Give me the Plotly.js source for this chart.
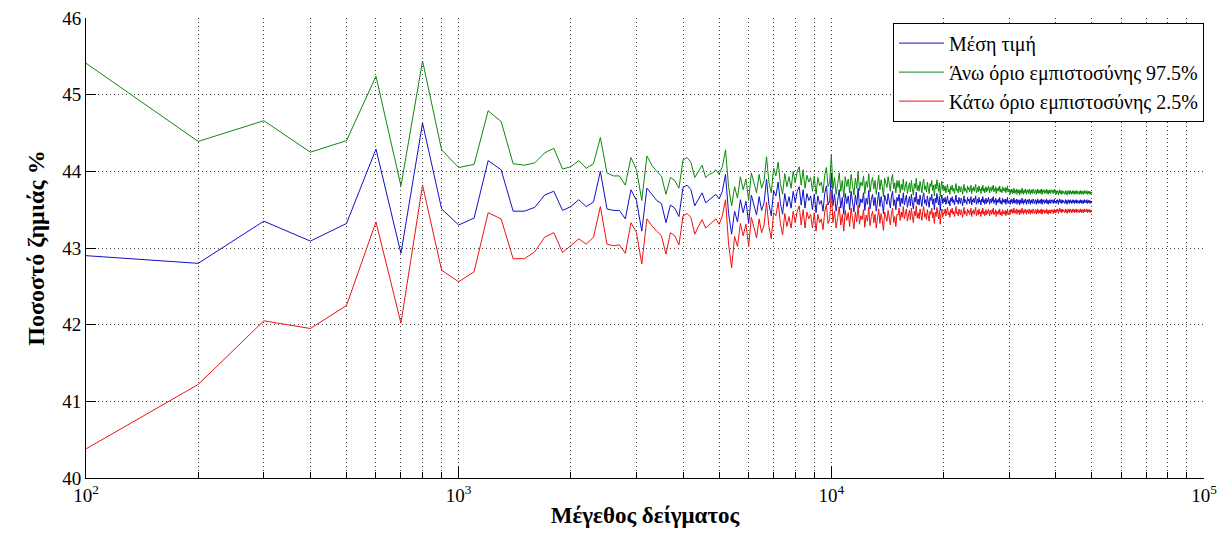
<!DOCTYPE html>
<html>
<head>
<meta charset="utf-8">
<script src="https://cdn.plot.ly/plotly-3.0.1.min.js"></script>
<style>html,body{margin:0;padding:0;background:#fff;}#chart{width:1222px;height:533px;}</style>
</head>
<body>
<div id="chart"></div>
<script>
// Sample sizes: 100, 200, ..., 50000
const sampleStart = 100, sampleStep = 100, sampleEnd = 50000;
const sampleSizes = [];
for (let n = sampleStart; n <= sampleEnd; n += sampleStep) sampleSizes.push(n);

// ---- Mean (Μέση τιμή) ----
const meanEarly = [42.90,42.80,43.35,43.09,43.32,44.29,42.93,44.63,43.51,43.30,43.39,44.14,44.02,43.48,43.48,43.53,43.69,43.74,43.49,43.54,43.63,43.54,43.60,44.00,43.51,43.49,43.49,43.38,43.76,43.62,43.22,43.78,43.70,43.62,43.58,43.33,43.56];
const meanMid = [43.52,43.41,43.79,43.82,43.76,43.55,43.64,43.72,43.59,43.63,43.66,43.70,43.64,43.74,43.96,43.45,43.18,43.48,43.34,43.63,43.46,43.61,43.32,43.69,43.56,43.43,43.67,43.49,43.59,43.90,43.57,43.42,43.75,43.68,43.86,43.58,43.44,43.71,43.54,43.67,43.52,43.74,43.59,43.74,43.80,43.56,43.76,43.52,43.71,43.62,43.68,43.50,43.70,43.46,43.68,43.57,43.62,43.48,43.71,43.81,43.56,43.62,43.98];
const meanLate = [
43.55,43.70,43.48,43.62,43.76,43.52,43.66,43.44,43.71,43.58,
43.68,43.50,43.74,43.60,43.47,43.69,43.56,43.78,43.53,43.64,
43.59,43.72,43.49,43.65,43.57,43.75,43.51,43.63,43.70,43.55,
43.66,43.48,43.61,43.73,43.54,43.67,43.58,43.45,43.69,43.62,
43.57,43.71,43.60,43.52,43.68,43.74,43.55,43.63,43.50,43.66,
43.61,43.70,43.54,43.65,43.58,43.72,43.56,43.64,43.69,43.53,
43.62,43.67,43.55,43.70,43.59,43.51,43.66,43.60,43.73,43.57,
43.64,43.56,43.69,43.61,43.54,43.67,43.72,43.58,43.63,43.55,
43.68,43.60,43.53,43.66,43.62,43.70,43.57,43.64,43.50,43.65,
43.59,43.71,43.62,43.56,43.67,43.49,43.63,43.69,43.58,43.64,
43.60,43.66,43.57,43.63,43.68,43.58,43.62,43.55,43.65,43.61,
43.67,43.59,43.63,43.56,43.64,43.69,43.60,43.62,43.57,43.66,
43.61,43.58,43.65,43.62,43.55,43.64,43.68,43.59,43.63,43.60,
43.57,43.66,43.61,43.64,43.58,43.62,43.67,43.56,43.63,43.60,
43.65,43.59,43.62,43.68,43.57,43.61,43.64,43.58,43.66,43.60,
43.62,43.56,43.64,43.60,43.67,43.59,43.63,43.57,43.61,43.65,
43.58,43.63,43.60,43.66,43.62,43.57,43.64,43.61,43.59,43.65,
43.61,43.67,43.58,43.62,43.60,43.65,43.56,43.63,43.61,43.59,
43.64,43.60,43.66,43.58,43.62,43.61,43.57,43.65,43.60,43.63,
43.59,43.62,43.64,43.57,43.63,43.60,43.66,43.58,43.61,43.62,
43.61,43.57,43.63,43.60,43.64,43.58,43.62,43.59,43.65,43.60,
43.58,43.62,43.60,43.64,43.57,43.61,43.63,43.59,43.62,43.56,
43.63,43.60,43.58,43.62,43.65,43.59,43.61,43.57,43.63,43.60,
43.59,43.64,43.61,43.57,43.62,43.60,43.63,43.58,43.61,43.64,
43.60,43.57,43.62,43.59,43.63,43.61,43.58,43.64,43.60,43.62,
43.58,43.61,43.63,43.60,43.57,43.62,43.59,43.64,43.61,43.58,
43.62,43.59,43.61,43.63,43.58,43.60,43.64,43.57,43.62,43.60,
43.61,43.63,43.58,43.60,43.62,43.59,43.61,43.64,43.58,43.62,
43.60,43.57,43.62,43.61,43.59,43.63,43.60,43.58,43.62,43.61,
43.63,43.59,43.61,43.58,43.62,43.60,43.64,43.59,43.61,43.60,
43.58,43.62,43.60,43.63,43.59,43.61,43.57,43.62,43.60,43.64,
43.61,43.59,43.62,43.60,43.58,43.63,43.61,43.59,43.62,43.60,
43.62,43.60,43.58,43.61,43.63,43.59,43.62,43.60,43.57,43.61,
43.60,43.63,43.61,43.59,43.62,43.58,43.61,43.63,43.60,43.59,
43.61,43.58,43.62,43.60,43.63,43.61,43.59,43.62,43.58,43.60,
43.62,43.60,43.59,43.63,43.61,43.58,43.62,43.60,43.61,43.59,
43.60,43.62,43.58,43.61,43.60,43.63,43.59,43.61,43.62,43.58,
43.61,43.59,43.62,43.60,43.58,43.61,43.63,43.60,43.59,43.62,
43.60,43.62,43.59,43.61,43.63,43.60,43.58,43.61,43.60,43.62,
43.59,43.61,43.60,43.62,43.58,43.61,43.60,43.59,43.61,43.60];

// ---- Upper bound 97.5% ----
const upperEarly = [45.41,44.39,44.66,44.25,44.40,45.24,43.81,45.44,44.28,44.05,44.09,44.79,44.65,44.10,44.08,44.11,44.24,44.30,44.03,44.06,44.14,44.04,44.10,44.44,43.98,43.94,43.94,43.82,44.18,44.02,43.62,44.20,44.08,44.00,43.94,43.70,43.92];
const upperMid = [43.88,43.78,44.15,44.18,44.12,43.92,44.00,44.08,43.92,43.96,43.98,44.02,43.96,44.06,44.28,43.80,43.55,43.80,43.65,43.93,43.76,43.90,43.62,43.98,43.85,43.72,43.96,43.78,43.88,44.19,43.86,43.72,44.04,43.94,44.12,43.84,43.70,43.97,43.80,43.93,43.78,44.00,43.85,44.00,44.06,43.82,44.02,43.78,43.95,43.86,43.92,43.74,43.94,43.70,43.92,43.81,43.86,43.72,43.95,44.05,43.80,43.86,44.22];
const upperLate = [
43.77,43.92,43.70,43.84,43.98,43.74,43.88,43.66,43.93,43.80,
43.90,43.72,43.96,43.82,43.69,43.91,43.78,44.00,43.75,43.86,
43.81,43.94,43.71,43.87,43.79,43.97,43.73,43.85,43.92,43.77,
43.88,43.70,43.83,43.95,43.76,43.89,43.80,43.67,43.91,43.84,
43.79,43.93,43.82,43.74,43.90,43.96,43.77,43.85,43.72,43.88,
43.79,43.88,43.72,43.83,43.76,43.90,43.74,43.82,43.87,43.71,
43.80,43.85,43.73,43.88,43.77,43.69,43.84,43.78,43.91,43.75,
43.82,43.74,43.87,43.79,43.72,43.85,43.90,43.76,43.81,43.73,
43.86,43.78,43.71,43.84,43.80,43.88,43.75,43.82,43.68,43.83,
43.77,43.89,43.80,43.74,43.85,43.67,43.81,43.87,43.76,43.82,
43.75,43.81,43.72,43.78,43.83,43.73,43.77,43.70,43.80,43.76,
43.82,43.74,43.78,43.71,43.79,43.84,43.75,43.77,43.72,43.81,
43.76,43.73,43.80,43.77,43.70,43.79,43.83,43.74,43.78,43.75,
43.72,43.81,43.76,43.79,43.73,43.77,43.82,43.71,43.78,43.75,
43.80,43.74,43.77,43.83,43.72,43.76,43.79,43.73,43.81,43.75,
43.77,43.71,43.79,43.75,43.82,43.74,43.78,43.72,43.76,43.80,
43.73,43.78,43.75,43.81,43.77,43.72,43.79,43.76,43.74,43.80,
43.76,43.82,43.73,43.77,43.75,43.80,43.71,43.78,43.76,43.74,
43.79,43.75,43.81,43.73,43.77,43.76,43.72,43.80,43.75,43.78,
43.74,43.77,43.79,43.72,43.78,43.75,43.81,43.73,43.76,43.77,
43.74,43.70,43.76,43.73,43.77,43.71,43.75,43.72,43.78,43.73,
43.71,43.75,43.73,43.77,43.70,43.74,43.76,43.72,43.75,43.69,
43.76,43.73,43.71,43.75,43.78,43.72,43.74,43.70,43.76,43.73,
43.72,43.77,43.74,43.70,43.75,43.73,43.76,43.71,43.74,43.77,
43.73,43.70,43.75,43.72,43.76,43.74,43.71,43.77,43.73,43.75,
43.71,43.74,43.76,43.73,43.70,43.75,43.72,43.77,43.74,43.71,
43.75,43.72,43.74,43.76,43.71,43.73,43.77,43.70,43.75,43.73,
43.74,43.76,43.71,43.73,43.75,43.72,43.74,43.77,43.71,43.75,
43.73,43.70,43.75,43.74,43.72,43.76,43.73,43.71,43.75,43.74,
43.76,43.72,43.74,43.71,43.75,43.73,43.77,43.72,43.74,43.73,
43.70,43.74,43.72,43.75,43.71,43.73,43.69,43.74,43.72,43.76,
43.73,43.71,43.74,43.72,43.70,43.75,43.73,43.71,43.74,43.72,
43.74,43.72,43.70,43.73,43.75,43.71,43.74,43.72,43.69,43.73,
43.72,43.75,43.73,43.71,43.74,43.70,43.73,43.75,43.72,43.71,
43.73,43.70,43.74,43.72,43.75,43.73,43.71,43.74,43.70,43.72,
43.74,43.72,43.71,43.75,43.73,43.70,43.74,43.72,43.73,43.71,
43.72,43.74,43.70,43.73,43.72,43.75,43.71,43.73,43.74,43.70,
43.73,43.71,43.74,43.72,43.70,43.73,43.75,43.72,43.71,43.74,
43.72,43.74,43.71,43.73,43.75,43.72,43.70,43.73,43.72,43.74,
43.71,43.73,43.72,43.74,43.70,43.73,43.72,43.71,43.73,43.72];

// ---- Lower bound 2.5% ----
const lowerEarly = [40.38,41.22,42.05,41.95,42.25,43.34,42.02,43.82,42.71,42.56,42.69,43.46,43.38,42.86,42.86,42.95,43.14,43.20,42.94,43.03,43.12,43.05,43.14,43.54,43.05,43.03,43.04,42.93,43.33,43.20,42.79,43.38,43.29,43.22,43.16,42.92,43.20];
const lowerMid = [43.16,43.04,43.42,43.45,43.40,43.18,43.28,43.37,43.26,43.30,43.33,43.38,43.31,43.42,43.63,43.05,42.74,43.15,43.02,43.32,43.16,43.31,43.02,43.40,43.27,43.13,43.38,43.20,43.30,43.60,43.28,43.12,43.46,43.42,43.60,43.32,43.17,43.45,43.28,43.41,43.26,43.48,43.33,43.48,43.55,43.30,43.50,43.26,43.47,43.38,43.44,43.26,43.46,43.22,43.44,43.33,43.38,43.24,43.47,43.57,43.32,43.38,43.74];
const lowerLate = [
43.33,43.48,43.26,43.40,43.54,43.30,43.44,43.22,43.49,43.36,
43.46,43.28,43.52,43.38,43.25,43.47,43.34,43.56,43.31,43.42,
43.37,43.50,43.27,43.43,43.35,43.53,43.29,43.41,43.48,43.33,
43.44,43.26,43.39,43.51,43.32,43.45,43.36,43.23,43.47,43.40,
43.35,43.49,43.38,43.30,43.46,43.52,43.33,43.41,43.28,43.44,
43.43,43.52,43.36,43.47,43.40,43.54,43.38,43.46,43.51,43.35,
43.44,43.49,43.37,43.52,43.41,43.33,43.48,43.42,43.55,43.39,
43.46,43.38,43.51,43.43,43.36,43.49,43.54,43.40,43.45,43.37,
43.50,43.42,43.35,43.48,43.44,43.52,43.39,43.46,43.32,43.47,
43.41,43.53,43.44,43.38,43.49,43.31,43.45,43.51,43.40,43.46,
43.45,43.51,43.42,43.48,43.53,43.43,43.47,43.40,43.50,43.46,
43.52,43.44,43.48,43.41,43.49,43.54,43.45,43.47,43.42,43.51,
43.46,43.43,43.50,43.47,43.40,43.49,43.53,43.44,43.48,43.45,
43.42,43.51,43.46,43.49,43.43,43.47,43.52,43.41,43.48,43.45,
43.50,43.44,43.47,43.53,43.42,43.46,43.49,43.43,43.51,43.45,
43.47,43.41,43.49,43.45,43.52,43.44,43.48,43.42,43.46,43.50,
43.43,43.48,43.45,43.51,43.47,43.42,43.49,43.46,43.44,43.50,
43.46,43.52,43.43,43.47,43.45,43.50,43.41,43.48,43.46,43.44,
43.49,43.45,43.51,43.43,43.47,43.46,43.42,43.50,43.45,43.48,
43.44,43.47,43.49,43.42,43.48,43.45,43.51,43.43,43.46,43.47,
43.48,43.44,43.50,43.47,43.51,43.45,43.49,43.46,43.52,43.47,
43.45,43.49,43.47,43.51,43.44,43.48,43.50,43.46,43.49,43.43,
43.50,43.47,43.45,43.49,43.52,43.46,43.48,43.44,43.50,43.47,
43.46,43.51,43.48,43.44,43.49,43.47,43.50,43.45,43.48,43.51,
43.47,43.44,43.49,43.46,43.50,43.48,43.45,43.51,43.47,43.49,
43.45,43.48,43.50,43.47,43.44,43.49,43.46,43.51,43.48,43.45,
43.49,43.46,43.48,43.50,43.45,43.47,43.51,43.44,43.49,43.47,
43.48,43.50,43.45,43.47,43.49,43.46,43.48,43.51,43.45,43.49,
43.47,43.44,43.49,43.48,43.46,43.50,43.47,43.45,43.49,43.48,
43.50,43.46,43.48,43.45,43.49,43.47,43.51,43.46,43.48,43.47,
43.46,43.50,43.48,43.51,43.47,43.49,43.45,43.50,43.48,43.52,
43.49,43.47,43.50,43.48,43.46,43.51,43.49,43.47,43.50,43.48,
43.50,43.48,43.46,43.49,43.51,43.47,43.50,43.48,43.45,43.49,
43.48,43.51,43.49,43.47,43.50,43.46,43.49,43.51,43.48,43.47,
43.49,43.46,43.50,43.48,43.51,43.49,43.47,43.50,43.46,43.48,
43.50,43.48,43.47,43.51,43.49,43.46,43.50,43.48,43.49,43.47,
43.48,43.50,43.46,43.49,43.48,43.51,43.47,43.49,43.50,43.46,
43.49,43.47,43.50,43.48,43.46,43.49,43.51,43.48,43.47,43.50,
43.48,43.50,43.47,43.49,43.51,43.48,43.46,43.49,43.48,43.50,
43.47,43.49,43.48,43.50,43.46,43.49,43.48,43.47,43.49,43.48];

const meanValues = meanEarly.concat(meanMid, meanLate);
const upperValues = upperEarly.concat(upperMid, upperLate);
const lowerValues = lowerEarly.concat(lowerMid, lowerLate);

const seriesNames = ['Μέση τιμή', 'Άνω όριο εμπιστοσύνης 97.5%', 'Κάτω όριο εμπιστοσύνης 2.5%'];
const seriesColors = ['#1010c8', '#0a8a0a', '#f01010'];

const xMajorTicks = [100, 1000, 10000, 100000];
const xMajorLabels = ['10<sup>2</sup>', '10<sup>3</sup>', '10<sup>4</sup>', '10<sup>5</sup>'];
const xMinorTicks = [200,300,400,500,600,700,800,900,2000,3000,4000,5000,6000,7000,8000,9000,20000,30000,40000,50000,60000,70000,80000,90000];
const yTicks = [40, 41, 42, 43, 44, 45, 46];
const xTitle = 'Μέγεθος δείγματος';
const yTitle = 'Ποσοστό ζημιάς %';

const serif = 'Liberation Serif, Times New Roman, serif';
const traces = [meanValues, upperValues, lowerValues].map((vals, i) => ({
  x: sampleSizes, y: vals, type: 'scatter', mode: 'lines',
  name: seriesNames[i], line: {color: seriesColors[i], width: 1}
}));

const gridStyle = {color: '#444', dash: '1px,3px'};
const layout = {
  width: 1222, height: 533,
  margin: {l: 86, r: 18, t: 18, b: 55},
  paper_bgcolor: '#fff', plot_bgcolor: '#fff',
  font: {family: serif, color: '#000', size: 18},
  showlegend: true,
  legend: {x: 1, xanchor: 'right', y: 0.99, yanchor: 'top', bgcolor: '#fff',
           bordercolor: '#000', borderwidth: 1, font: {family: serif, size: 20, color: '#000'},
           tracegroupgap: 0, itemwidth: 45},
  xaxis: {
    type: 'log', range: [2, 5],
    tickmode: 'array', tickvals: xMajorTicks, ticktext: xMajorLabels,
    ticks: 'inside', ticklen: 12, tickcolor: '#000', tickwidth: 1,
    showgrid: true, gridcolor: gridStyle.color, griddash: gridStyle.dash, gridwidth: 1,
    minor: {tickvals: xMinorTicks, ticks: 'inside', ticklen: 6, tickcolor: '#000',
            showgrid: true, gridcolor: gridStyle.color, griddash: gridStyle.dash, gridwidth: 1},
    showline: true, linecolor: '#000', linewidth: 1, mirror: false, zeroline: false,
    tickfont: {family: serif, size: 19, color: '#000'},
    title: {text: '<b>' + xTitle + '</b>', font: {family: serif, size: 23, color: '#000'}, standoff: 2}
  },
  yaxis: {
    range: [40, 46], tickmode: 'array', tickvals: yTicks,
    ticks: 'inside', ticklen: 10, tickcolor: '#000',
    showgrid: true, gridcolor: gridStyle.color, griddash: gridStyle.dash, gridwidth: 1,
    showline: true, linecolor: '#000', linewidth: 1, mirror: false, zeroline: false,
    tickfont: {family: serif, size: 19, color: '#000'},
    title: {text: '<b>' + yTitle + '</b>', font: {family: serif, size: 24, color: '#000'}, standoff: 10}
  }
};

Plotly.newPlot('chart', traces, layout, {displayModeBar: false, staticPlot: true});
</script>
</body>
</html>
